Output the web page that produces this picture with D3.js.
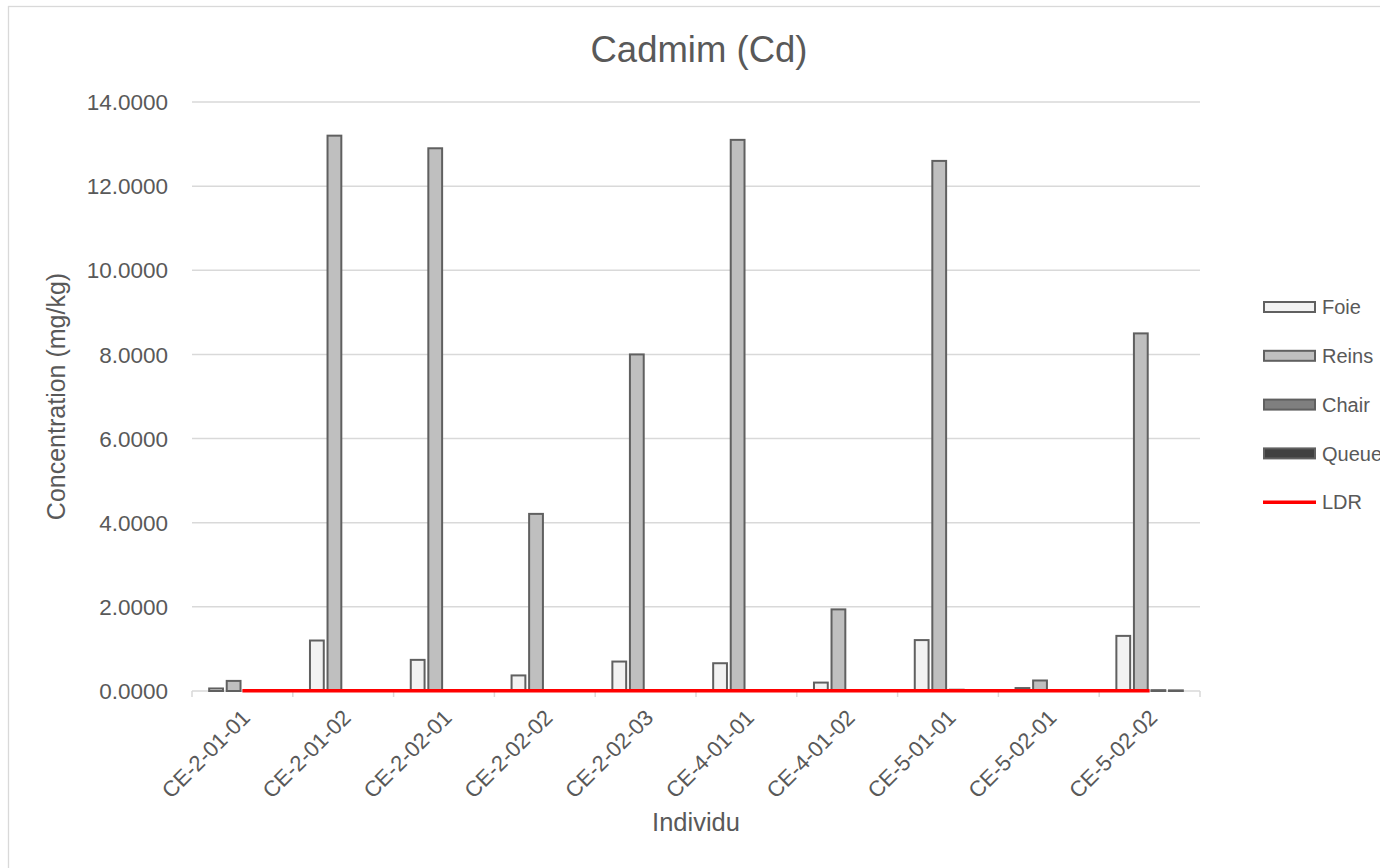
<!DOCTYPE html>
<html>
<head>
<meta charset="utf-8">
<script src="https://cdn.jsdelivr.net/npm/d3@7"></script>
<style>
    body { margin: 0; background: #fff; overflow: hidden; }
    text { font-family: "Liberation Sans", Arial, sans-serif; fill: #595959; }
</style>
</head>
<body>
<div id="viz"></div>
<script>
    // Data
    var categories = ["CE-2-01-01", "CE-2-01-02", "CE-2-02-01", "CE-2-02-02", "CE-2-02-03",
                      "CE-4-01-01", "CE-4-01-02", "CE-5-01-01", "CE-5-02-01", "CE-5-02-02"];
    var seriesNames = ["Foie", "Reins", "Chair", "Queue"];
    var foie  = [0.06, 1.20, 0.74, 0.37, 0.70, 0.66, 0.20, 1.21, 0.07, 1.31];
    var reins = [0.24, 13.20, 12.90, 4.21, 8.00, 13.10, 1.94, 12.60, 0.25, 8.50];
    var chair = [0.01, 0.01, 0.01, 0.01, 0.01, 0.01, 0.01, 0.03, 0.01, 0.02];
    var queue = [0.01, 0.01, 0.01, 0.01, 0.01, 0.01, 0.01, 0.01, 0.01, 0.015];
    var ldr   = [0.005, 0.005, 0.005, 0.005, 0.005, 0.005, 0.005, 0.005, 0.005, 0.005];
    var yTicks = [0, 2, 4, 6, 8, 10, 12, 14];

    var colors = { "Foie": "#f2f2f2", "Reins": "#bfbfbf", "Chair": "#7f7f7f", "Queue": "#404040" };
    var valuesBySeries = { "Foie": foie, "Reins": reins, "Chair": chair, "Queue": queue };

    var W = 1380, H = 868;
    var plot = { left: 192, right: 1200, top: 102, bottom: 691 };

    var svg = d3.select("#viz").append("svg")
        .attr("width", W)
        .attr("height", H);

    // chart area border (runs off the right / bottom of the picture)
    svg.append("rect")
        .attr("x", 8.5).attr("y", 6.5)
        .attr("width", 1400).attr("height", 900)
        .attr("fill", "#fff")
        .attr("stroke", "#d9d9d9")
        .attr("stroke-width", 1.3);

    // scales
    var x0 = d3.scaleBand()
        .domain(categories)
        .range([plot.left, plot.right])
        .paddingInner(0.286)
        .paddingOuter(0.143);

    var x1 = d3.scaleBand()
        .domain(seriesNames)
        .range([0, x0.bandwidth()])
        .padding(0.1);

    var y = d3.scaleLinear()
        .domain([0, 14])
        .range([plot.bottom, plot.top]);

    // gridlines
    svg.append("g")
        .selectAll("line")
        .data(yTicks.filter(function(d) { return d > 0; }))
        .enter()
        .append("line")
        .attr("x1", plot.left).attr("x2", plot.right)
        .attr("y1", function(d) { return y(d); })
        .attr("y2", function(d) { return y(d); })
        .attr("stroke", "#d9d9d9")
        .attr("stroke-width", 1.5);

    // y tick labels
    svg.append("g")
        .selectAll("text")
        .data(yTicks)
        .enter()
        .append("text")
        .attr("x", plot.left - 24)
        .attr("y", function(d) { return y(d); })
        .attr("dy", "0.36em")
        .attr("text-anchor", "end")
        .attr("font-size", "22.5px")
        .text(function(d) { return d3.format(".4f")(d); });

    // x axis: baseline plus tick marks between categories
    var xAxis = svg.append("g")
        .attr("transform", "translate(0," + plot.bottom + ")")
        .call(d3.axisBottom(x0).tickSize(0).tickFormat(""));
    xAxis.select(".domain").remove();
    xAxis.append("line")
        .attr("x1", plot.left).attr("x2", plot.right)
        .attr("stroke", "#d9d9d9").attr("stroke-width", 1.5);
    var boundaries = categories.map(function(c) { return x0(c) - x0.step() * x0.paddingInner() / 2; });
    boundaries.push(plot.right);
    xAxis.selectAll(".bound")
        .data(boundaries)
        .enter()
        .append("line")
        .attr("class", "bound")
        .attr("x1", function(d) { return d; })
        .attr("x2", function(d) { return d; })
        .attr("y1", 0).attr("y2", 6)
        .attr("stroke", "#d9d9d9").attr("stroke-width", 1.5);

    // rotated category labels
    svg.append("g")
        .selectAll("text")
        .data(categories)
        .enter()
        .append("text")
        .attr("transform", function(d) {
            return "translate(" + (x0(d) + x0.bandwidth() / 2 - 2) + "," + (plot.bottom + 17) + ") rotate(-45)";
        })
        .attr("dy", "0.71em")
        .attr("text-anchor", "end")
        .attr("font-size", "22px")
        .text(function(d) { return d; });

    // bars
    var groups = svg.append("g")
        .selectAll("g")
        .data(categories)
        .enter()
        .append("g")
        .attr("transform", function(d) { return "translate(" + x0(d) + ",0)"; });

    groups.selectAll("rect")
        .data(function(d, i) {
            return seriesNames.map(function(s) { return { key: s, value: valuesBySeries[s][i] }; });
        })
        .enter()
        .append("rect")
        .attr("x", function(d) { return x1(d.key) + 1; })
        .attr("width", x1.bandwidth() - 2)
        .attr("y", function(d) { return y(d.value); })
        .attr("height", function(d) { return y(0) - y(d.value); })
        .attr("fill", function(d) { return colors[d.key]; })
        .attr("stroke", "#606060")
        .attr("stroke-width", 2);

    // LDR line from first to last category centre
    var line = d3.line()
        .x(function(d, i) { return x0(categories[i]) + x0.bandwidth() / 2; })
        .y(function(d) { return y(d); });
    svg.append("path")
        .datum(ldr)
        .attr("d", line)
        .attr("fill", "none")
        .attr("stroke", "#ff0000")
        .attr("stroke-width", 3.5);

    // titles
    svg.append("text")
        .attr("x", 699).attr("y", 62)
        .attr("text-anchor", "middle")
        .attr("font-size", "36.5px")
        .text("Cadmim (Cd)");

    svg.append("text")
        .attr("transform", "translate(65," + ((plot.top + plot.bottom) / 2) + ") rotate(-90)")
        .attr("text-anchor", "middle")
        .attr("font-size", "25px")
        .text("Concentration (mg/kg)");

    svg.append("text")
        .attr("x", (plot.left + plot.right) / 2).attr("y", 831)
        .attr("text-anchor", "middle")
        .attr("font-size", "25.5px")
        .text("Individu");

    // legend
    var legendItems = seriesNames.concat(["LDR"]);
    var legend = svg.append("g")
        .selectAll("g")
        .data(legendItems)
        .enter()
        .append("g")
        .attr("transform", function(d, i) { return "translate(1264," + (307 + i * 48.8) + ")"; });

    legend.filter(function(d) { return d !== "LDR"; })
        .append("rect")
        .attr("x", 0).attr("y", -5)
        .attr("width", 51).attr("height", 10)
        .attr("fill", function(d) { return colors[d]; })
        .attr("stroke", "#606060")
        .attr("stroke-width", 2);

    legend.filter(function(d) { return d === "LDR"; })
        .append("line")
        .attr("x1", -1).attr("x2", 52)
        .attr("stroke", "#ff0000")
        .attr("stroke-width", 3.5);

    legend.append("text")
        .attr("x", 58)
        .attr("dy", "0.36em")
        .attr("font-size", "20px")
        .text(function(d) { return d; });
</script>
</body>
</html>
